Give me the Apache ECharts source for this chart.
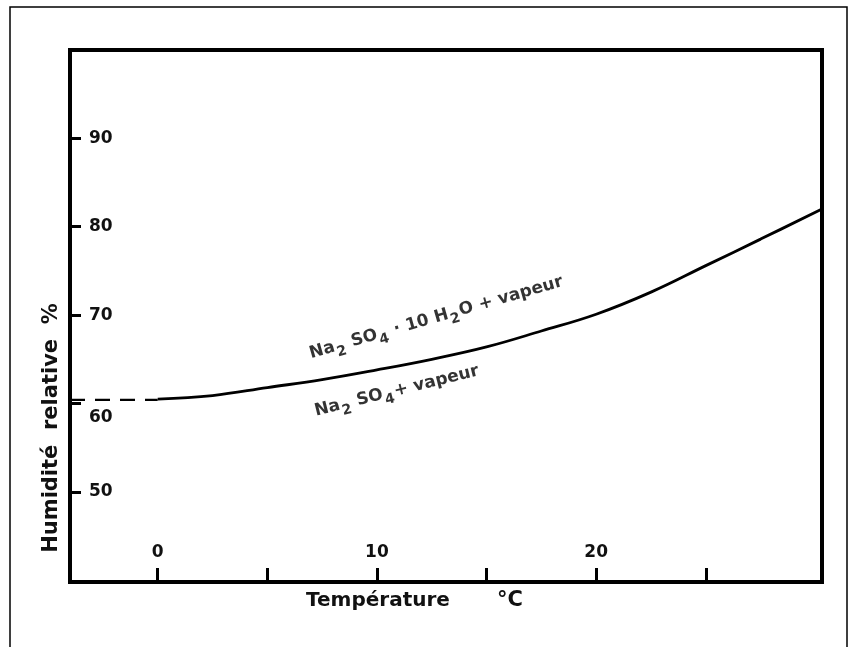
<!DOCTYPE html>
<html>
<head>
<meta charset="utf-8">
<script src="https://cdn.jsdelivr.net/npm/echarts@6/dist/echarts.min.js"></script>
<style>
html,body{margin:0;padding:0;background:#fff;}
#chart{width:853px;height:647px;}
</style>
</head>
<body>
<div id="chart"></div>
<script>
// Temperature (°C) and relative humidity (%) along the equilibrium curve
const curveTemp = [0, 2.5, 5, 7.5, 10, 12.5, 15, 17.5, 20, 22.5, 25, 27.5, 30.3];
const curveHum  = [60.5, 60.9, 61.8, 62.7, 63.8, 65.0, 66.4, 68.2, 70.1, 72.6, 75.6, 78.6, 82.0];
// Dashed extrapolation below 0 °C
const dashTemp = [-4, 0];
const dashHum  = [60.4, 60.4];
// Axis ticks and labels
const xTickValues  = [0, 5, 10, 15, 20, 25];
const xLabelValues = [0, 10, 20];
const yTickValues  = [50, 60, 70, 80, 90];
const yLabelValues = [50, 60, 70, 80, 90];
// Phase annotations (anchor temperature, humidity, text, rotation)
const annoTemp = [12.7, 10.9];
const annoHum  = [69.7, 61.4];
const annoText = [
  '{n|Na}{s|2}{n| SO}{s|4}{n| · 10 H}{s|2}{n|O + vapeur}',
  '{n|Na}{s|2}{n| SO}{s|4}{n|+ vapeur}'
];
const annoRot = [16, 14];

const FONT = 'DejaVu Sans';
const chart = echarts.init(document.getElementById('chart'));

const richStyle = {
  n: {fontFamily: FONT, fontSize: 17, color: '#000', fontWeight: 'bold', textBorderWidth: 0},
  s: {fontFamily: FONT, fontSize: 14, color: '#000', fontWeight: 'bold', textBorderWidth: 0,
      padding: [13, 1, 0, 1]}
};

chart.setOption({
  backgroundColor: '#fff',
  animation: false,
  grid: {
    left: 70, right: 31, top: 50, bottom: 65,
    show: true, borderColor: '#000', borderWidth: 4, backgroundColor: 'transparent'
  },
  xAxis: {
    type: 'value', min: -4, max: 30.3,
    axisLine: {show: false, onZero: false},
    splitLine: {show: false},
    axisTick: {show: true, inside: true, length: 14, customValues: xTickValues,
               lineStyle: {color: '#000', width: 3}},
    axisLabel: {show: true, inside: true, margin: 21, customValues: xLabelValues,
                fontFamily: FONT, fontSize: 17, fontWeight: 'bold', color: '#111'}
  },
  yAxis: {
    type: 'value', min: 39.8, max: 100,
    axisLine: {show: false, onZero: false},
    splitLine: {show: false},
    axisTick: {show: true, inside: true, length: 11, customValues: yTickValues,
               lineStyle: {color: '#000', width: 3}},
    axisLabel: {show: true, inside: true, margin: 19, customValues: yLabelValues,
                fontFamily: FONT, fontSize: 17, fontWeight: 'bold', color: '#111',
                formatter: v => (v === 60 ? '{low|60}' : String(v)),
                rich: {low: {fontFamily: FONT, fontSize: 17, fontWeight: 'bold', color: '#111',
                             padding: [28, 0, 0, 0]}}}
  },
  series: [
    {
      type: 'line', smooth: 0.4, symbol: 'none',
      data: curveTemp.map((t, i) => [t, curveHum[i]]),
      lineStyle: {color: '#000', width: 2.8}
    },
    {
      type: 'line', symbol: 'none',
      data: dashTemp.map((t, i) => [t, dashHum[i]]),
      lineStyle: {color: '#000', width: 2.2, type: [15, 10]}
    },
    {
      type: 'scatter', symbolSize: 0, silent: true,
      itemStyle: {color: '#000'},
      data: annoTemp.map((t, i) => ({
        value: [t, annoHum[i]],
        label: {show: true, position: 'inside', rotate: annoRot[i], color: '#000',
                textBorderWidth: 0, formatter: annoText[i], rich: richStyle}
      }))
    }
  ],
  graphic: [
    {type: 'rect', shape: {x: 10, y: 7, width: 837, height: 700},
     style: {fill: 'none', stroke: '#000', lineWidth: 1.5}, z: 10},
    {type: 'text', x: 52, y: 428, rotation: Math.PI / 2,
     style: {text: 'Humidité  relative  %', fontFamily: FONT, fontSize: 21, fontWeight: 'bold',
             fill: '#111', align: 'center', verticalAlign: 'middle'}},
    {type: 'text', x: 378, y: 601,
     style: {text: 'Température', fontFamily: FONT, fontSize: 20, fontWeight: 'bold',
             fill: '#111', align: 'center', verticalAlign: 'middle'}},
    {type: 'text', x: 510, y: 601,
     style: {text: '°C', fontFamily: FONT, fontSize: 21, fontWeight: 'bold',
             fill: '#111', align: 'center', verticalAlign: 'middle'}}
  ]
});
</script>
</body>
</html>
